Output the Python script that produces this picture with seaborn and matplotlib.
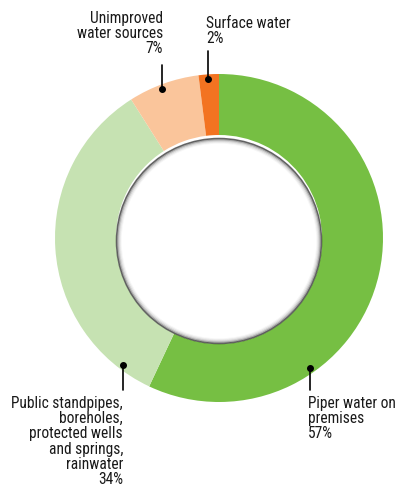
import numpy as np
import pandas as pd
import matplotlib.pyplot as plt
import seaborn as sns
from matplotlib.patches import Circle

# data
labels = ['Piper water on\npremises', 'Public standpipes,\nboreholes,\nprotected wells\nand springs,\nrainwater',
          'Unimproved\nwater sources', 'Surface water']
shares = [57, 34, 7, 2]
colors = ['#76BF43', '#C6E2B2', '#FAC59B', '#F37321']

sns.set_theme(style='white')
plt.rcParams['font.family'] = ['Roboto Condensed', 'Archivo Narrow', 'Barlow Condensed', 'DejaVu Sans']

fig = plt.figure(figsize=(3.95, 4.88), dpi=100)
ax = fig.add_axes([0, 0, 1, 1])

# layout in pixel units (y measured from bottom)
cx, cy = 219, 250
r_out, r_in = 164, 103

ax.pie(shares, colors=colors, startangle=90, counterclock=False,
       center=(cx, cy), radius=r_out, wedgeprops=dict(width=r_out - r_in, linewidth=0))

# inner hole with soft shadow rim
ax.add_patch(Circle((cx, cy - 3), r_in, facecolor='white', edgecolor='none'))
for i, a in enumerate([0.7, 0.35, 0.18, 0.09, 0.04]):
    ax.add_patch(Circle((cx, cy - 3), r_in - 0.5 - i * 1.1, facecolor='none',
                        edgecolor=(0.15, 0.15, 0.15, a), linewidth=1.1))

# label placement: (dot angle, line end y, text x, text y, align)
angles = [-55, -127, 111, 94]
line_end = [98, 98, 423, 437]
text_pos = [(308, 92, 'left'), (123, 92, 'right'), (163, 477, 'right'), (206, 472, 'left')]

for lab, val, ang, ly, (tx, ty, ha) in zip(labels, shares, angles, line_end, text_pos):
    px = cx + 0.97 * r_out * np.cos(np.radians(ang))
    py = cy + 0.97 * r_out * np.sin(np.radians(ang))
    ax.plot([px, px], [py, ly], color='black', linewidth=1.2)
    ax.plot(px, py, 'o', color='black', markersize=4)
    ax.text(tx, ty, f'{lab}\n{val}%', ha=ha, va='top', fontsize=11.2,
            linespacing=1.02, color='#1a1a1a')

ax.set_xlim(0, 395)
ax.set_ylim(0, 488)
ax.set_aspect('equal')
ax.axis('off')

plt.savefig('out.png', dpi=100)
